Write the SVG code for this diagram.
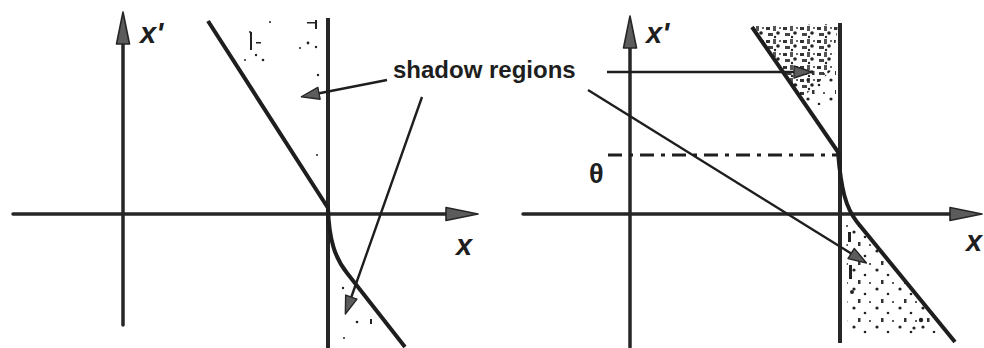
<svg xmlns="http://www.w3.org/2000/svg" width="984" height="348" viewBox="0 0 984 348">
  <style>
    .axis { stroke: #262626; stroke-width: 3.5; fill: none; stroke-linecap: round; }
    .wall { stroke: #262626; stroke-width: 4; fill: none; }
    .curve { stroke: #1e1e1e; stroke-width: 4; fill: none; stroke-linejoin: round; }
    .thin { stroke: #1e1e1e; stroke-width: 2.4; fill: none; }
    .dashdot { stroke: #1e1e1e; stroke-width: 3; fill: none; stroke-dasharray: 14 7 4 7; }
    .lbl { font-family: "Liberation Sans", Arial, sans-serif; font-weight: bold; fill: #1e1e1e; }
    .var { font-family: "Liberation Sans", Arial, sans-serif; font-weight: bold; font-style: italic; fill: #1e1e1e; }
    .speck { fill: #222; }
  </style>
  <defs>
    <marker id="bigHead" markerUnits="userSpaceOnUse" viewBox="0 0 34 16" markerWidth="34" markerHeight="16" refX="2" refY="8" orient="auto">
      <path d="M1,1.5 L33,8 L1,14.5 Z" fill="#5c5c5c" stroke="#262626" stroke-width="1.6" stroke-linejoin="round"/>
    </marker>
    <marker id="smallHead" markerUnits="userSpaceOnUse" viewBox="0 0 20 14" markerWidth="20" markerHeight="14" refX="2" refY="7" orient="auto">
      <path d="M1,1 L19,7 L1,13 Z" fill="#5c5c5c" stroke="#262626" stroke-width="1.4" stroke-linejoin="round"/>
    </marker>
    <pattern id="denseStipple" patternUnits="userSpaceOnUse" width="17" height="13">
      <rect x="1" y="1" width="4" height="3" fill="#333"/>
      <rect x="8" y="0" width="3" height="5" fill="#555"/>
      <circle cx="13" cy="7" r="1.8" fill="#222"/>
      <rect x="3" y="7" width="5" height="3" fill="#444"/>
      <circle cx="10" cy="11" r="1.2" fill="#222"/>
      <circle cx="15" cy="2" r="1" fill="#333"/>
    </pattern>
    <pattern id="sparseStipple" patternUnits="userSpaceOnUse" width="23" height="19">
      <circle cx="3" cy="4" r="1.6" fill="#222"/>
      <circle cx="14" cy="9" r="1.3" fill="#222"/>
      <rect x="7" y="14" width="2.5" height="4" fill="#333"/>
      <circle cx="19" cy="17" r="1" fill="#222"/>
    </pattern>
  </defs>

  <g id="left-panel">
    <g id="left-shading">
      <circle class="speck" cx="250" cy="32" r="1"/>
      <rect class="speck" x="250" y="32" width="2" height="18"/>
      <rect class="speck" x="256" y="42" width="5" height="1.5"/>
      <circle class="speck" cx="256" cy="55" r="1.2"/>
      <circle class="speck" cx="263" cy="60" r="1.3"/>
      <circle class="speck" cx="245" cy="60" r="1"/>
      <circle class="speck" cx="270" cy="22" r="1"/>
      <rect class="speck" x="307" y="22" width="8" height="1.5"/>
      <rect class="speck" x="315" y="20" width="2" height="9"/>
      <circle class="speck" cx="308" cy="43" r="1.4"/>
      <circle class="speck" cx="316" cy="47" r="1.2"/>
      <circle class="speck" cx="300" cy="48" r="1"/>
      <circle class="speck" cx="318" cy="75" r="1.2"/>
      <circle class="speck" cx="317" cy="155" r="1"/>
      <circle class="speck" cx="343" cy="288" r="1.2"/>
      <circle class="speck" cx="357" cy="322" r="1.3"/>
      <rect class="speck" x="370" y="319" width="2" height="5"/>
      <circle class="speck" cx="344" cy="338" r="1"/>
    </g>
    <g id="left-x-axis">
      <line class="axis" x1="13" y1="214" x2="447" y2="214" marker-end="url(#bigHead)"/>
      <text class="var" x="456" y="255" font-size="29">x</text>
    </g>
    <g id="left-xprime-axis">
      <line class="axis" x1="123" y1="325" x2="123" y2="43" marker-end="url(#bigHead)"/>
      <text class="var" x="140" y="43" font-size="29">x'</text>
    </g>
    <g id="left-wall">
      <line class="wall" x1="328" y1="18" x2="328" y2="348"/>
    </g>
    <g id="left-curve">
      <path class="curve" d="M208,21 L328,208 C329,240 335,258 347,273 L405,347"/>
    </g>
  </g>

  <g id="right-panel">
    <g id="right-shading">
      <polygon points="754,26 838,24 832,70 800,100 784,74" fill="url(#denseStipple)"/>
      <polygon points="784,74 836,68 836,105 806,105" fill="url(#sparseStipple)"/>
      <polygon points="846,222 857,224 945,333 848,335" fill="url(#sparseStipple)"/>
      <rect class="speck" x="848" y="232" width="3" height="10"/>
      <rect class="speck" x="849" y="265" width="3" height="14"/>
      <circle class="speck" cx="852" cy="292" r="2"/>
      <circle class="speck" cx="921" cy="320" r="2.2"/>
      <circle class="speck" cx="914" cy="328" r="1.6"/>
    </g>
    <g id="right-x-axis">
      <line class="axis" x1="523" y1="214" x2="951" y2="214" marker-end="url(#bigHead)"/>
      <text class="var" x="966" y="251" font-size="29">x</text>
    </g>
    <g id="right-xprime-axis">
      <line class="axis" x1="630" y1="347" x2="630" y2="47" marker-end="url(#bigHead)"/>
      <text class="var" x="646" y="43" font-size="29">x'</text>
    </g>
    <g id="right-wall">
      <line class="wall" x1="840" y1="23" x2="840" y2="343"/>
    </g>
    <g id="right-curve">
      <path class="curve" d="M752,27 L838,152 C841,190 846,208 857,222 L955,342"/>
    </g>
    <g id="theta">
      <line class="dashdot" x1="608" y1="155" x2="838" y2="155"/>
      <text class="lbl" x="589" y="183" font-size="27">θ</text>
    </g>
  </g>

  <g id="connectors">
    <text class="lbl" x="393" y="78" font-size="24">shadow regions</text>
    <line class="thin" x1="387" y1="80" x2="318" y2="93.5" marker-end="url(#smallHead)"/>
    <line class="thin" x1="422" y1="97" x2="351" y2="298" marker-end="url(#smallHead)"/>
    <line class="thin" x1="607" y1="72" x2="795" y2="72" marker-end="url(#smallHead)"/>
    <line class="thin" x1="588" y1="90" x2="852" y2="254" marker-end="url(#smallHead)"/>
  </g>
</svg>
